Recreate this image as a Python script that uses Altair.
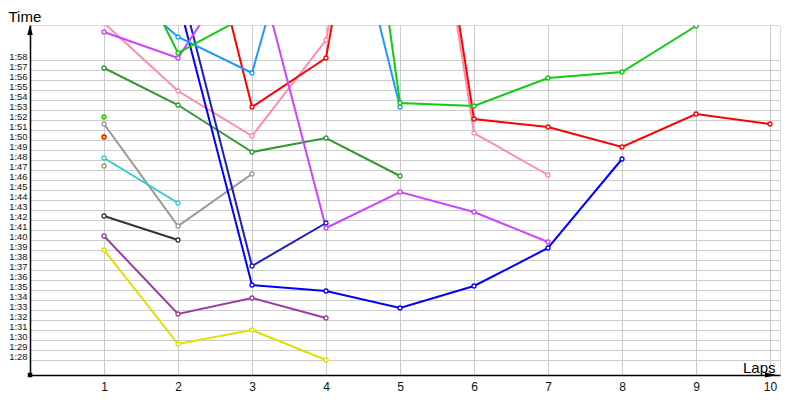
import altair as alt
import pandas as pd

# Lap numbers (x axis)
laps = [1, 2, 3, 4, 5, 6, 7, 8, 9, 10]
# Y-axis tick values, in seconds (1:28 ... 1:58)
y_ticks = list(range(88, 119))

# Lap times in seconds, one list per driver (None = no lap recorded)
series_names = ["yellow", "purple", "black", "gray", "cyan", "dkgreen", "pink",
                "red", "blue", "navy", "magenta", "ltblue", "green",
                "single_a", "single_b", "single_c"]
series_stroke = ["#e0e000", "#9c3c9c", "#333333", "#999999", "#33cccc", "#339933",
                 "#ff8cab", "#ff0000", "#0000ff", "#1c1cc0", "#cc44ff", "#1a9cff",
                 "#11cc11", "#11cc11", "#ff0000", "#999966"]
series_fill = ["white", "white", "white", "white", "white", "white",
               "white", "white", "white", "white", "white", "white",
               "white", "#e6e600", "#e6e600", "white"]

yellow = [99.0, 89.6, 91.0, 88.0]
purple = [100.4, 92.6, 94.2, 92.2]
black = [102.4, 100.0]
gray = [111.6, 101.4, 106.6]
cyan = [108.2, 103.7]
dkgreen = [117.2, 113.5, 108.8, 110.2, 106.4]
pink = [121.7, 114.9, 110.4, 120.0, 158.0, 110.7, 106.5]
red = [None, 142.9, 113.3, 118.2, 159.5, 112.1, 111.3, 109.3, 112.6, 111.6]
blue = [None, 124.1, 95.5, 94.9, 93.2, 95.4, 99.2, 108.1]
navy = [None, 126.4, 97.4, 101.7]
magenta = [120.8, 118.2, 129.5, 101.2, 104.8, 102.8, 99.8]
ltblue = [126.8, 120.3, 116.7, 143.0, 113.3]
green = [133.5, 118.7, 122.7, 167.2, 113.7, 113.4, 116.2, 116.8, 121.4]
single_a = [112.3]
single_b = [110.3]
single_c = [107.4]

series_values = [yellow, purple, black, gray, cyan, dkgreen, pink, red, blue, navy,
                 magenta, ltblue, green, single_a, single_b, single_c]

rows = []
for k, (name, vals) in enumerate(zip(series_names, series_values)):
    for lap, v in zip(laps, vals):
        if v is not None:
            rows.append({"series": name, "order": k, "lap": lap, "t": v,
                         "stroke": series_stroke[k], "fill": series_fill[k]})
df = pd.DataFrame(rows)

FONT = "Liberation Sans"
xscale = alt.Scale(domain=[0, 10.135], nice=False, zero=False)
yscale = alt.Scale(domain=[86.5, 121.5], nice=False, zero=False)

xaxis = alt.Axis(values=laps, tickCount=len(laps), format="d", grid=True,
                 gridColor="#cccccc", gridWidth=1,
                 ticks=False, domain=True, domainColor="black", domainWidth=1.5,
                 labelFont=FONT, labelFontSize=12, labelColor="#111111",
                 labelPadding=6, labelAngle=0, labelOverlap=False,
                 title="Laps", titleFont=FONT, titleFontSize=15,
                 titleFontWeight="normal", titleColor="black",
                 titleAlign="right", titleBaseline="alphabetic",
                 titleX=745, titleY=-3)
yaxis = alt.Axis(values=y_ticks, tickCount=len(y_ticks), grid=True,
                 gridColor="#cccccc", gridWidth=1,
                 ticks=False, domain=True, domainColor="black", domainWidth=1.5,
                 labelFont=FONT, labelFontSize=9.4, labelColor="#111111",
                 labelPadding=3, labelBaseline="alphabetic", labelOffset=-1,
                 labelOverlap=False,
                 labelExpr="floor(datum.value/60) + ':' + (datum.value % 60 < 10 ? '0' : '') + (datum.value % 60)",
                 title="Time", titleFont=FONT, titleFontSize=15,
                 titleFontWeight="normal", titleColor="black", titleAngle=0,
                 titleAlign="left", titleBaseline="alphabetic",
                 titleX=-22, titleY=-4)

base = alt.Chart(df)

lines = base.mark_line(strokeWidth=2, clip=True).encode(
    x=alt.X("lap:Q", scale=xscale, axis=xaxis),
    y=alt.Y("t:Q", scale=yscale, axis=yaxis),
    stroke=alt.Stroke("stroke:N", scale=None),
    detail="series:N",
    order="lap:Q",
)

points = base.mark_point(filled=True, opacity=1, size=16, strokeWidth=1.3,
                         clip=True).encode(
    x=alt.X("lap:Q", scale=xscale, axis=xaxis),
    y=alt.Y("t:Q", scale=yscale, axis=yaxis),
    stroke=alt.Stroke("stroke:N", scale=None),
    fill=alt.Fill("fill:N", scale=None),
)

one = pd.DataFrame({"k": [0]})
y_arrow = alt.Chart(one).mark_point(
    shape="M0,-1L0.55,1L-0.55,1Z", filled=True, color="black", opacity=1, size=100
).encode(x=alt.value(0), y=alt.value(5))
x_arrow = alt.Chart(one).mark_point(
    shape="M1,0L-1,0.4L-1,-0.4Z", filled=True, color="black", opacity=1, size=144
).encode(x=alt.value(741), y=alt.value(350))
origin = alt.Chart(one).mark_square(color="black", opacity=1, size=20).encode(
    x=alt.value(0), y=alt.value(350))

chart = alt.layer(lines, points, y_arrow, x_arrow, origin).properties(
    width=750, height=350,
    autosize=alt.AutoSizeParams(type="none"),
    padding={"left": 22, "top": 17, "right": 12, "bottom": 17},
).configure_view(stroke=None).configure(background="white")

chart.save("out.html", embed_options={"renderer": "svg", "actions": False})
